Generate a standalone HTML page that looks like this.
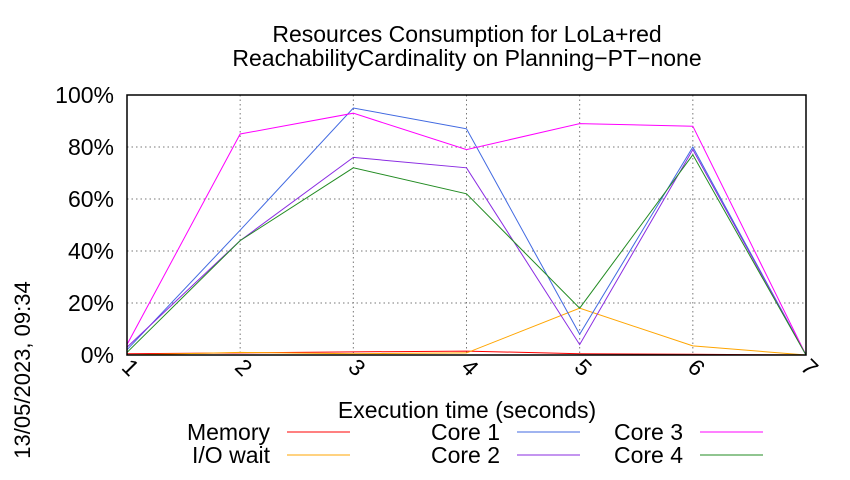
<!DOCTYPE html>
<html><head><meta charset="utf-8"><style>
body{margin:0;background:#fff;}
svg{font-family:"Liberation Sans",sans-serif;}
</style></head><body>
<svg width="850" height="475" viewBox="0 0 850 475">
<rect width="850" height="475" fill="#fff"/>
<text x="467" y="42" font-size="23" text-anchor="middle">Resources Consumption for LoLa+red</text>
<text x="467" y="66" font-size="23" text-anchor="middle">ReachabilityCardinality on Planning−PT−none</text>
<g id="grid"></g>
<g id="series"></g>
<rect x="127" y="95" width="679" height="260" fill="none" stroke="#000" stroke-width="1.5"/>
<g id="axes"></g>
<text x="467" y="418" font-size="23" text-anchor="middle">Execution time (seconds)</text>
<text transform="translate(30,370) rotate(-90)" font-size="22" text-anchor="middle">13/05/2023, 09:34</text>
<g id="legend"></g>
</svg>
<script>
const xValues=[1,2,3,4,5,6,7];
const yTicks=[0,20,40,60,80,100];
const seriesNames=["Memory","I/O wait","Core 1","Core 2","Core 3","Core 4"];
const memory=[0.5,0.8,1.2,1.5,0.5,0.3,0];
const ioWait=[0,1,0.5,0.8,18,3.5,0];
const core1=[2,48,95,87,8,80,0];
const core2=[3,44,76,72,4,79,0];
const core3=[4,85,93,79,89,88,0];
const core4=[1,44,72,62,18,77,0];
const colors=["#ff0000","#ffa500","#4169e1","#8a2be2","#ff00ff","#228b22"];
const seriesData=[memory,ioWait,core1,core2,core3,core4];
const NS="http://www.w3.org/2000/svg";
const X=v=>127+(v-1)*(679/6);
const Y=v=>355-v*2.6;
function mk(t,a,p){const e=document.createElementNS(NS,t);for(const k in a)e.setAttribute(k,a[k]);p.appendChild(e);return e;}
const grid=document.getElementById('grid'),axes=document.getElementById('axes');
yTicks.forEach(t=>{
 const l=mk('line',{x1:127,x2:806,y1:Y(t),y2:Y(t),stroke:'#777','stroke-dasharray':'1.5,3'},grid);
 
 
 const tx=mk('text',{x:114,y:Y(t)+8,'font-size':23,'text-anchor':'end'},axes);
 tx.textContent=t+'%';
 
 
});
xValues.forEach(v=>{
 const l=mk('line',{x1:X(v),x2:X(v),y1:95,y2:355,stroke:'#777','stroke-dasharray':'1.5,3'},grid);
 
 
 const tx=mk('text',{transform:`translate(${X(v)-2},${373}) rotate(45)`,'font-size':23,'text-anchor':'middle'},axes);
 tx.textContent=v;
 
 
});
const sg=document.getElementById('series');
seriesData.forEach((d,i)=>{
 const p=mk('polyline',{points:d.map((v,j)=>X(xValues[j])+','+Y(v)).join(' '),fill:'none',stroke:colors[i],'stroke-width':1},sg);
 
 
});
const lg=document.getElementById('legend');
const legPos=[[270,432],[270,455],[500,432],[500,455],[683,432],[683,455]];
seriesNames.forEach((n,i)=>{
 const [x,y]=legPos[i];
 const t=mk('text',{x:x,y:y+8,'font-size':23,'text-anchor':'end'},lg);
 t.textContent=n;
 
 
 const l=mk('line',{x1:x+17,x2:x+80,y1:y,y2:y,stroke:colors[i]},lg);
 
 
});
</script>
</body></html>
